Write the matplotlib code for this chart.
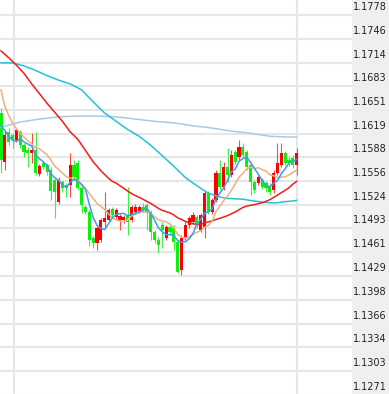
import matplotlib
matplotlib.use("Agg")
import matplotlib.pyplot as plt
import matplotlib.transforms as mtransforms
import numpy as np
import pandas as pd

# ---------------- data (prices) ----------------
opens = [1.1647,1.1582,1.1622,1.1618,1.1611,1.1622,1.1604,1.1598,1.1594,1.1598,
         1.1566,1.1580,1.1578,1.1571,1.1558,1.1528,1.1555,1.1551,1.1551,1.1578,
         1.1580,1.1547,1.1522,1.1515,1.1480,1.1474,1.1478,1.1502,1.1504,1.1519,
         1.1508,1.1504,1.1504,1.1511,1.1504,1.1515,1.1516,1.1522,1.1524,1.1514,
         1.1488,1.1478,1.1498,1.1480,1.1495,1.1494,1.1475,1.1438,1.1482,1.1498,
         1.1502,1.1508,1.1491,1.1495,1.1540,1.1515,1.1531,1.1567,1.1548,1.1575,
         1.1564,1.1595,1.1588,1.1602,1.1595,1.1578,1.1555,1.1554,1.1558,1.1554,
         1.1550,1.1544,1.1567,1.1578,1.1594,1.1584,1.1587,1.1578]
closes = [1.1584,1.1618,1.1608,1.1611,1.1624,1.1604,1.1595,1.1594,1.1598,1.1567,
          1.1576,1.1575,1.1568,1.1543,1.1542,1.1558,1.1547,1.1547,1.1578,1.1562,
          1.1547,1.1524,1.1515,1.1478,1.1474,1.1494,1.1504,1.1507,1.1518,1.1511,
          1.1518,1.1510,1.1508,1.1502,1.1522,1.1522,1.1522,1.1518,1.1514,1.1488,
          1.1478,1.1471,1.1491,1.1495,1.1488,1.1475,1.1435,1.1480,1.1498,1.1507,
          1.1511,1.1498,1.1511,1.1540,1.1515,1.1531,1.1567,1.1548,1.1575,1.1564,
          1.1591,1.1582,1.1602,1.1591,1.1575,1.1555,1.1544,1.1562,1.1548,1.1547,
          1.1542,1.1567,1.1580,1.1594,1.1580,1.1580,1.1578,1.1594]
highs = [1.1654,1.1624,1.1627,1.1620,1.1627,1.1624,1.1607,1.1602,1.1620,1.1622,
         1.1579,1.1583,1.1580,1.1575,1.1560,1.1562,1.1558,1.1554,1.1594,1.1584,
         1.1584,1.1550,1.1524,1.1518,1.1483,1.1496,1.1507,1.1542,1.1520,1.1522,
         1.1520,1.1512,1.1511,1.1548,1.1524,1.1526,1.1524,1.1527,1.1527,1.1518,
         1.1491,1.1482,1.1502,1.1498,1.1498,1.1498,1.1478,1.1484,1.1502,1.1510,
         1.1515,1.1511,1.1514,1.1544,1.1543,1.1534,1.1571,1.1584,1.1582,1.1600,
         1.1598,1.1598,1.1611,1.1607,1.1598,1.1580,1.1558,1.1564,1.1560,1.1556,
         1.1554,1.1571,1.1607,1.1607,1.1596,1.1588,1.1591,1.1600]
lows = [1.1567,1.1571,1.1604,1.1600,1.1608,1.1600,1.1588,1.1575,1.1580,1.1564,
        1.1563,1.1572,1.1564,1.1531,1.1507,1.1526,1.1542,1.1535,1.1535,1.1558,
        1.1544,1.1514,1.1512,1.1470,1.1467,1.1464,1.1475,1.1494,1.1502,1.1508,
        1.1506,1.1491,1.1500,1.1484,1.1502,1.1512,1.1514,1.1515,1.1491,1.1478,
        1.1474,1.1460,1.1467,1.1478,1.1486,1.1464,1.1434,1.1431,1.1478,1.1494,
        1.1499,1.1494,1.1488,1.1480,1.1512,1.1512,1.1528,1.1544,1.1544,1.1555,
        1.1562,1.1579,1.1584,1.1587,1.1571,1.1538,1.1540,1.1551,1.1546,1.1542,
        1.1538,1.1540,1.1564,1.1575,1.1578,1.1576,1.1574,1.1564]

# moving-average values before each window fills
ma5_head = [1.1630, 1.1624, 1.1616, 1.1611]
ma10_head = [1.1678, 1.1656, 1.1644, 1.1634, 1.1626, 1.1620, 1.1615, 1.1610, 1.1606]
ma30_head_idx = [0, 2, 4, 6, 8, 10, 12, 14, 16, 18, 20, 22, 24, 26, 28]
ma30_head = [1.1730, 1.1721, 1.1711, 1.1700, 1.1686, 1.1673, 1.1660, 1.1648, 1.1636,
             1.1622, 1.1612, 1.1597, 1.1582, 1.1570, 1.1560]
ma60_head_idx = [0, 3, 6, 9, 12, 15, 18, 21, 24, 27, 30, 33, 36, 39, 42, 45, 48, 51, 54, 57]
ma60_head = [1.1714, 1.1714, 1.1710, 1.1704, 1.1697, 1.1691, 1.1686, 1.1678, 1.1662,
             1.1647, 1.1636, 1.1625, 1.1616, 1.1604, 1.1590, 1.1576, 1.1561, 1.1550,
             1.1540, 1.1535]
# longest average (window far wider than the visible data)
ma120_idx = [0, 5, 10, 15, 20, 25, 30, 35, 40, 45, 50, 55, 60, 65, 70, 75, 77]
ma120_vals = [1.1628, 1.1635, 1.1639, 1.1642, 1.1643, 1.1643, 1.1642, 1.1639, 1.1636,
              1.1634, 1.1630, 1.1627, 1.1623, 1.1620, 1.1616, 1.1615, 1.1615]

tick_labels = ["1.1778", "1.1746", "1.1714", "1.1683", "1.1651", "1.1619", "1.1588",
               "1.1556", "1.1524", "1.1493", "1.1461", "1.1429", "1.1398", "1.1366",
               "1.1334", "1.1303", "1.1271"]
tick_values = [float(t) for t in tick_labels]
time_separators = [3.4, 77.0]

# ---------------- figure ----------------
W, H = 389, 394
fig = plt.figure(figsize=(W / 100, H / 100), dpi=100)
plot_w = 352
ax = fig.add_axes([0, 0, plot_w / W, 1])
ax2 = fig.add_axes([plot_w / W, 0, (W - plot_w) / W, 1])

ylim = (1.12719, 1.17980)
n = len(closes)
x = np.arange(n)
xlim = (-0.26, 91.41)

for a in (ax, ax2):
    a.set_ylim(*ylim)
    for s in a.spines.values():
        s.set_visible(False)
    a.set_xticks([])
    a.set_yticks([])
ax.set_xlim(*xlim)
ax.set_facecolor("white")
ax2.set_facecolor("#efefef")
ax2.set_xlim(0, 1)

grid_c = "#e6e6e6"
for v in tick_values:
    ax.axhline(v, color=grid_c, lw=1.5, zorder=0)
for v in time_separators:
    ax.axvline(v, color=grid_c, lw=1.5, zorder=0)

# candles (red = up, green = down)
o = np.array(opens); c = np.array(closes); h = np.array(highs); l = np.array(lows)
up = c >= o
body_col = np.where(up, "#ff0000", "#10ee10")
wick_col = np.where(up, "#ff4a4a", "#44ee44")
ax.vlines(x, l, h, colors=wick_col, lw=0.8, zorder=2)
bottoms = np.minimum(o, c)
heights = np.maximum(np.abs(c - o), 0.00006)
ax.bar(x, heights, bottom=bottoms, width=0.82, color=body_col, linewidth=0, zorder=3)

# moving averages
cs = pd.Series(closes)
ma5 = cs.rolling(5).mean().to_numpy()
ma5[:len(ma5_head)] = ma5_head
ma10 = cs.rolling(10).mean().to_numpy()
ma10[:len(ma10_head)] = ma10_head
ma30_full = cs.rolling(30).mean().to_numpy()
ma30_x = list(ma30_head_idx) + list(range(29, n))
ma30_y = list(ma30_head) + list(ma30_full[29:])
ma60_full = cs.rolling(60).mean().to_numpy()
ma60_x = list(ma60_head_idx) + list(range(59, n))
ma60_y = list(ma60_head) + list(ma60_full[59:])

ax.plot(ma120_idx, ma120_vals, color="#a9c9e2", lw=1.1, zorder=4)
ax.plot(ma60_x, ma60_y, color="#22c4d4", lw=1.1, zorder=4)
ax.plot(ma30_x, ma30_y, color="#f01e1e", lw=1.1, zorder=4)
ax.plot(x, ma10, color="#eeb080", lw=1.1, zorder=5)
ax.plot(x, ma5, color="#3d9cf0", lw=1.1, zorder=6)

# price labels
trans = mtransforms.blended_transform_factory(ax2.transAxes, ax2.transData) + \
    mtransforms.ScaledTranslation(0, 8 / 100, fig.dpi_scale_trans)
for v, t in zip(tick_values, tick_labels):
    ax2.text(0.03, v, t, transform=trans, ha="left", va="center",
             fontsize=7, color="#222222", family="DejaVu Sans", clip_on=False)

fig.savefig("out.png", dpi=100)
